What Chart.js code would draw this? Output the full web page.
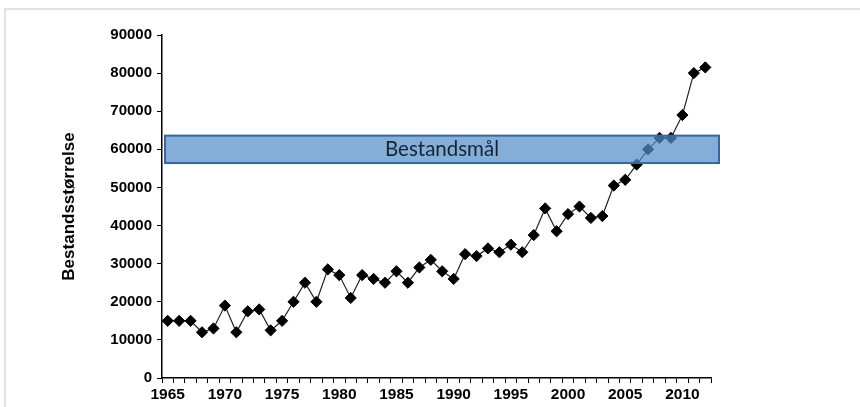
<!DOCTYPE html>
<html>
<head>
<meta charset="utf-8">
<script src="https://cdn.jsdelivr.net/npm/chart.js@4.4.1/dist/chart.umd.min.js"></script>
<style>
  html, body { margin: 0; padding: 0; background: #fff; }
  #wrap { position: relative; width: 860px; height: 407px; overflow: hidden; }
  #frame { position: absolute; left: 4px; top: 8px; width: 900px; height: 450px;
           border-top: 2px solid #e2e2e2; border-left: 2px solid #e2e2e2; pointer-events: none; }
  canvas { position: absolute; left: 0; top: 0; }
</style>
</head>
<body>
<div id="wrap">
  <div id="frame"></div>
  <canvas id="c" width="860" height="407"></canvas>
</div>
<script>
// ---- data ----
const years = [];
for (let y = 1965; y <= 2012; y++) years.push(y);
const populationSize = [
  15000, 15000, 15000, 12000, 13000, 19000, 12000, 17500, 18000, 12500, // 1965-1974
  15000, 20000, 25000, 20000, 28500, 27000, 21000, 27000, 26000, 25000, // 1975-1984
  28000, 25000, 29000, 31000, 28000, 26000, 32500, 32000, 34000, 33000, // 1985-1994
  35000, 33000, 37500, 44500, 38500, 43000, 45000, 42000, 42500, 50500, // 1995-2004
  52000, 56000, 60000, 63000, 63000, 69000, 80000, 81500               // 2005-2012
];
const targetRange = [56400, 63600];
const targetLabel = 'Bestandsmål';
const yAxisTitle = 'Bestandsstørrelse';
const yTicks = [0, 10000, 20000, 30000, 40000, 50000, 60000, 70000, 80000, 90000];

const bandPlugin = {
  id: 'band',
  afterDatasetsDraw(chart) {
    const {ctx, chartArea, scales} = chart;
    const y1 = scales.y.getPixelForValue(targetRange[1]);
    const y0 = scales.y.getPixelForValue(targetRange[0]);
    const x0 = chartArea.left + 3;
    const x1 = chartArea.right + 8;
    ctx.save();
    ctx.fillStyle = 'rgba(83,143,200,0.72)';
    ctx.fillRect(x0, y1, x1 - x0, y0 - y1);
    ctx.strokeStyle = '#3c64a0';
    ctx.lineWidth = 2;
    ctx.strokeRect(x0, y1, x1 - x0, y0 - y1);
    ctx.fillStyle = '#1a2233';
    ctx.font = '20.5px Lato, "Open Sans", sans-serif';
    ctx.textAlign = 'center';
    ctx.textBaseline = 'middle';
    ctx.fillText(targetLabel, (x0 + x1) / 2, (y0 + y1) / 2);
    ctx.restore();
  }
};

new Chart(document.getElementById('c'), {
  type: 'line',
  data: {
    labels: years,
    datasets: [{
      data: populationSize,
      borderColor: '#222',
      borderWidth: 1.2,
      pointStyle: 'rectRot',
      pointRadius: 5.6,
      pointBackgroundColor: '#000',
      pointBorderColor: '#000',
      pointBorderWidth: 1,
      tension: 0
    }]
  },
  options: {
    responsive: false,
    animation: false,
    layout: { padding: { left: 55, right: 149, top: 35, bottom: 0 } },
    plugins: { legend: { display: false }, tooltip: { enabled: false } },
    scales: {
      x: {
        type: 'category',
        offset: true,
        grid: { offset: true, drawOnChartArea: false, tickLength: 5, color: '#000', lineWidth: 1 },
        border: { display: true, color: '#000', width: 1.5 },
        ticks: {
          autoSkip: false, maxRotation: 0, minRotation: 0, padding: 2,
          color: '#000',
          font: { family: 'Arial, "Liberation Sans", sans-serif', size: 15.5, weight: 'bold' },
          callback: (v, i) => (years[i] % 5 === 0 ? String(years[i]) : '')
        },
        afterFit(scale) { scale.height = 29; }
      },
      y: {
        min: 0, max: 90000,
        afterBuildTicks(scale) { scale.ticks = yTicks.map(v => ({ value: v })); },
        grid: { drawOnChartArea: false, tickLength: 5, color: '#000', lineWidth: 1 },
        border: { display: true, color: '#000', width: 1.5 },
        ticks: {
          color: '#000', padding: 5,
          font: { family: 'Arial, "Liberation Sans", sans-serif', size: 15, weight: 'bold' },
          callback: v => String(v)
        },
        title: {
          display: true, text: yAxisTitle, color: '#000',
          font: { family: 'Arial, "Liberation Sans", sans-serif', size: 17, weight: 'bold' },
          padding: { top: 4, bottom: 4 }
        },
        afterFit(scale) { scale.width = 107; }
      }
    }
  },
  plugins: [bandPlugin]
});
</script>
</body>
</html>
